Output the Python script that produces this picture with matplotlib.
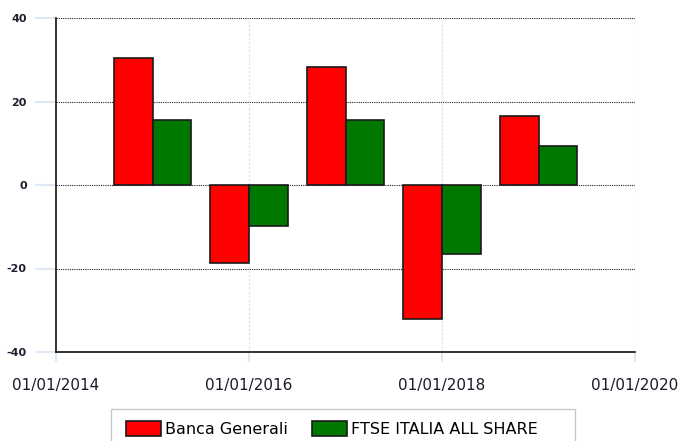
import matplotlib
matplotlib.use("Agg")
import matplotlib.pyplot as plt
from matplotlib.patches import Rectangle

years = [2015, 2016, 2017, 2018, 2019]
banca_generali = [30.4, -18.6, 28.2, -32.0, 16.5]
ftse_italia = [15.6, -9.9, 15.6, -16.6, 9.3]
series_names = ["Banca Generali", "FTSE ITALIA ALL SHARE"]
x_ticks = [2014, 2016, 2018, 2020]
x_labels = ["01/01/2014", "01/01/2016", "01/01/2018", "01/01/2020"]
y_ticks = [-40, -20, 0, 20, 40]

fig = plt.figure(figsize=(6.78, 4.41), dpi=100)
ax = fig.add_axes([56 / 678, 89 / 441, 579 / 678, 334 / 441])

w = 0.4
ax.bar([y - w / 2 for y in years], banca_generali, width=w, color="#ff0000",
       edgecolor="#1a1a1a", linewidth=1.2, label=series_names[0], zorder=3)
ax.bar([y + w / 2 for y in years], ftse_italia, width=w, color="#007800",
       edgecolor="#1a1a1a", linewidth=1.2, label=series_names[1], zorder=3)

ax.set_xlim(2014, 2020)
ax.set_ylim(-40, 40)
ax.set_xticks(x_ticks)
ax.set_xticklabels(x_labels, fontsize=11, color="#1a1a2a")
ax.set_yticks(y_ticks)
ax.set_yticklabels([str(v) for v in y_ticks], fontsize=8, color="#1e1e2e",
                   fontweight="bold")

# dotted horizontal grid, faint vertical grid
for v in y_ticks[1:]:
    ax.axhline(v, color="#222222", linestyle=(0, (1, 1)), linewidth=0.8, zorder=1)
for v in x_ticks[1:]:
    ax.axvline(v, color="#dce8f5", linestyle=(0, (2, 1)), linewidth=1.0, zorder=1)

ax.tick_params(axis="y", length=15, width=1.5, color="#dde9f6", pad=6)
ax.tick_params(axis="x", length=7, width=1.5, color="#dde9f6", pad=12)
for side in ["top", "right"]:
    ax.spines[side].set_visible(False)
ax.spines["left"].set_color("#111111")
ax.spines["bottom"].set_color("#111111")
ax.spines["left"].set_linewidth(1.2)
ax.spines["bottom"].set_linewidth(1.2)

# legend box (cut off by the figure bottom)
fig.patches.append(Rectangle((111 / 678, -0.05), 464 / 678, (441 - 409) / 441 + 0.05,
                             transform=fig.transFigure, facecolor="white",
                             edgecolor="#c8c8c8", linewidth=1.0))
fig.legend(loc="center", bbox_to_anchor=(332 / 678, 12 / 441), ncol=2, frameon=False,
           fontsize=11.5, handlelength=2.2, handleheight=1.1, handletextpad=0.25,
           columnspacing=1.5)

fig.savefig("out.png", dpi=100)
